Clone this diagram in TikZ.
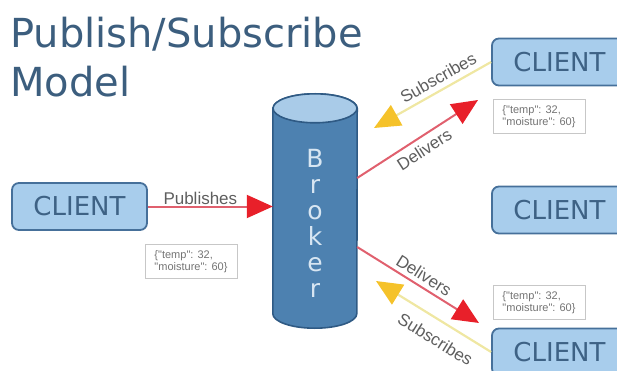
\documentclass[tikz,border=0pt]{standalone}
\usepackage{fontspec}
\setmainfont{DejaVu Sans}
\newfontfamily\labelfont{Liberation Sans}
\usetikzlibrary{arrows.meta}

\definecolor{titleblue}{HTML}{3C5E7E}
\definecolor{clientfill}{HTML}{A8CDEC}
\definecolor{clientedge}{HTML}{46709A}
\definecolor{clienttext}{HTML}{3E6285}
\definecolor{brokerbody}{HTML}{4D81B0}
\definecolor{brokertop}{HTML}{A9CBE8}
\definecolor{brokeredge}{HTML}{2F5A84}
\definecolor{brokertext}{HTML}{D8E6F2}
\definecolor{linered}{HTML}{E0606E}
\definecolor{tipred}{HTML}{E8202A}
\definecolor{lineyellow}{HTML}{EFE7A2}
\definecolor{tipyellow}{HTML}{F5C22A}
\definecolor{labelgray}{HTML}{5E5E5E}

\tikzset{
  title/.style={text=titleblue, font=\fontsize{40}{40}\selectfont, inner sep=0pt},
  client/.style={draw=clientedge, line width=1.8pt, fill=clientfill, rounded corners=7pt,
    minimum width=135pt, minimum height=47pt, inner sep=0pt, text=clienttext,
    font=\fontsize{26}{26}\selectfont},
  payload/.style={draw=black!22, line width=0.6pt, minimum width=92pt, minimum height=34pt,
    align=left, text=black!55, font=\labelfont\fontsize{11}{12}\selectfont, inner sep=3pt},
  deliver/.style={draw=linered, line width=2pt, -{Triangle[length=26pt, width=23pt, color=tipred]}},
  subscribe/.style={draw=lineyellow, line width=2.2pt, -{Triangle[length=26pt, width=23pt, color=tipyellow]}},
  msglabel/.style={text=labelgray, font=\labelfont\fontsize{17}{17}\selectfont, inner sep=2pt}
}

\begin{document}
\begin{tikzpicture}[x=1pt, y=-1pt]
\useasboundingbox (0,0) rectangle (617,371);

% title
\node[title, anchor=base west] (titleA) at (10,48) {Publish/Subscribe};
\node[title, anchor=base west] (titleB) at (10,97) {Model};

% broker
\node[minimum width=84pt, minimum height=234pt, inner sep=0pt] (broker) at (315,211) {};
\path[draw=brokeredge, line width=1.6pt, fill=brokerbody]
  ([yshift=-14.5pt]broker.north west) -- ([yshift=14.5pt]broker.south west)
  arc[start angle=180, end angle=360, x radius=42pt, y radius=14.5pt]
  -- ([yshift=-14.5pt]broker.north east)
  arc[start angle=0, end angle=180, x radius=42pt, y radius=14.5pt] -- cycle;
\draw[brokeredge, line width=1.6pt, fill=brokertop]
  ([yshift=-14.5pt]broker.north) ellipse[x radius=42pt, y radius=14.5pt];
\node[text=brokertext, align=center, font=\fontsize{25}{26}\selectfont, inner sep=0pt,
  anchor=north] (brokerlbl) at (315,149) {B\\r\\o\\k\\e\\r};

% clients
\node[client] (pubclient) at (79.5,206.5) {CLIENT};
\node[client] (subtop) at (559.5,62) {CLIENT};
\node[client] (idle) at (559.5,210) {CLIENT};
\node[client] (subbot) at (559.5,352) {CLIENT};

% messages
\node[payload] (pubmsg) at (191,261.5) {\{"temp": 32,\\"moisture": 60\}};
\node[payload] (topmsg) at (539,116.5) {\{"temp": 32,\\"moisture": 60\}};
\node[payload] (botmsg) at (539,302.5) {\{"temp": 32,\\"moisture": 60\}};

\coordinate (toptip) at (478,100);
\coordinate (topsub) at (374,128);
\coordinate (bottip) at (479,323);
\coordinate (botsub) at (376,281);

% connectors
\draw[deliver] (pubclient.east) -- (pubclient.east -| broker.west)
  node[msglabel, pos=0.42, above=-1pt] {Publishes};
\draw[subscribe] (subtop.west) -- (topsub)
  node[msglabel, pos=0.4, sloped, above=3pt] {Subscribes};
\draw[deliver] ([yshift=33pt]broker.east) -- (toptip)
  node[msglabel, midway, sloped, below=3pt] {Delivers};
\draw[deliver] ([yshift=-36pt]broker.east) -- (bottip)
  node[msglabel, midway, sloped, above=2pt] {Delivers};
\draw[subscribe] (subbot.west) -- (botsub)
  node[msglabel, pos=0.4, sloped, below=9pt] {Subscribes};
\end{tikzpicture}
\end{document}
